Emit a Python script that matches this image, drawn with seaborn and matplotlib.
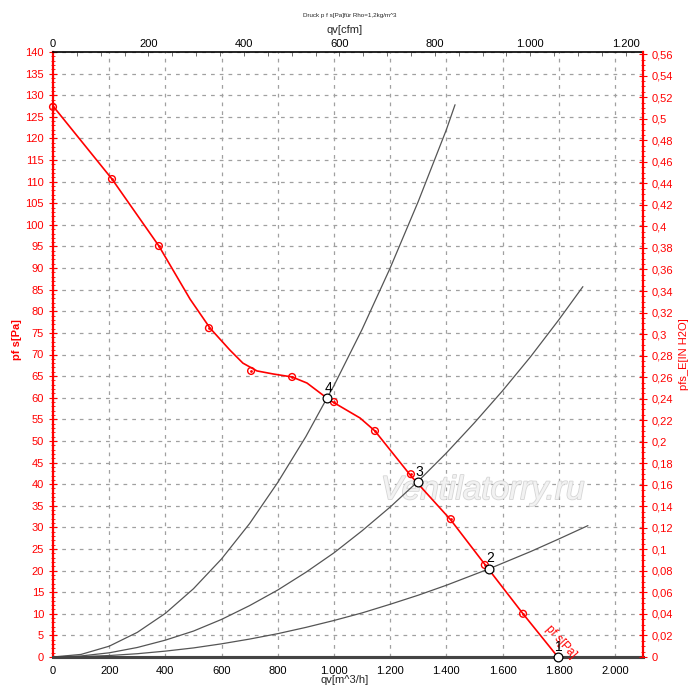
import numpy as np
import pandas as pd
import seaborn as sns
import matplotlib.pyplot as plt
from matplotlib.ticker import MultipleLocator, FixedLocator, FuncFormatter
import matplotlib.patheffects as pe

# fan curve (line), m^3/h vs Pa
fan_line_q = [0, 210, 377, 488, 559, 630, 676, 726, 783, 851, 904, 961, 996, 1093, 1146, 1274, 1416, 1541, 1673, 1797]
fan_line_p = [127.5, 110.6, 95.1, 82.8, 76.1, 71.0, 68.0, 66.2, 65.5, 64.8, 63.4, 60.6, 59.0, 55.3, 52.3, 41.9, 31.7, 21.1, 10.0, 0.0]

# measured points on the fan curve
meas_q = [0, 210, 377, 555, 705, 851, 1000, 1146, 1274, 1416, 1537, 1673]
meas_p = [127.3, 110.6, 95.1, 76.1, 66.2, 64.8, 59.0, 52.3, 42.3, 31.9, 21.3, 10.0]

# system curves
sys4_q = [0, 100, 200, 300, 400, 500, 600, 700, 800, 900, 975, 1000, 1100, 1200, 1300, 1400, 1431]
sys4_p = [0, 0.6, 2.5, 5.7, 10.1, 15.8, 22.7, 30.9, 40.4, 51.0, 59.9, 62.8, 75.8, 90.0, 105.4, 122.0, 127.8]
sys3_q = [0, 100, 200, 300, 400, 500, 600, 700, 800, 900, 1000, 1100, 1200, 1300, 1400, 1500, 1600, 1700, 1800, 1886]
sys3_p = [0, 0.24, 0.97, 2.2, 3.9, 6.0, 8.7, 11.9, 15.5, 19.6, 24.1, 29.2, 34.7, 40.7, 47.2, 54.2, 61.6, 69.5, 78.0, 85.7]
sys2_q = [0, 100, 200, 300, 400, 500, 600, 700, 800, 900, 1000, 1100, 1200, 1300, 1400, 1500, 1552, 1600, 1700, 1800, 1904]
sys2_p = [0, 0.08, 0.34, 0.76, 1.36, 2.1, 3.05, 4.15, 5.4, 6.85, 8.45, 10.2, 12.2, 14.3, 16.6, 19.1, 20.4, 21.7, 24.4, 27.3, 30.4]
sys1_q = [0, 2100]
sys1_p = [0, 0]

# operating points
op_labels = ["1", "2", "3", "4"]
op_q = [1797, 1552, 1299, 975]
op_p = [0.0, 20.4, 40.5, 59.9]

x_ticks = list(range(0, 2001, 200))
y_ticks = list(range(0, 141, 5))
cfm_ticks = list(range(0, 1201, 200))
inh2o_ticks = [i / 50 for i in range(0, 29)]

PA_TO_INH2O = 0.0040146
M3H_PER_CFM = 1.699

RED = "#ff0000"

sns.set_style("white")
plt.rcParams["font.family"] = ["Liberation Sans", "DejaVu Sans"]

fig = plt.figure(figsize=(7, 7), dpi=100)
ax = fig.add_axes([53 / 700, 43 / 700, 590 / 700, 605 / 700])

ax.set_xlim(0, 2100)
ax.set_ylim(0, 140)

ax.xaxis.set_major_locator(FixedLocator(x_ticks))
ax.xaxis.set_minor_locator(FixedLocator(list(range(100, 2100, 200))))
ax.yaxis.set_major_locator(FixedLocator(y_ticks))
ax.yaxis.set_minor_locator(MultipleLocator(1))
ax.grid(True, which="major", color="#a0a0a0", linestyle=(0, (3, 4)), linewidth=0.9)
ax.set_axisbelow(True)

def thousands(v, pos):
    return f"{int(round(v)):,}".replace(",", ".")

ax.xaxis.set_major_formatter(FuncFormatter(thousands))
ax.tick_params(axis="x", which="both", direction="out", colors="#333333", labelsize=8,
               labelcolor="black", length=3, width=0.6)
ax.tick_params(axis="y", which="major", direction="inout", colors=RED, labelsize=8, length=6, width=0.8)
ax.tick_params(axis="y", which="minor", direction="inout", colors=RED, length=3, width=0.6)

ax.spines["left"].set_color(RED)
ax.spines["left"].set_linewidth(1.6)
ax.spines["right"].set_visible(False)
ax.spines["top"].set_color("black")
ax.spines["top"].set_linewidth(1.2)
ax.spines["bottom"].set_color("#444444")
ax.spines["bottom"].set_linewidth(2.2)

# system curves
for q, p in [(sys4_q, sys4_p), (sys3_q, sys3_p), (sys2_q, sys2_p)]:
    sns.lineplot(x=q, y=p, ax=ax, color="#555555", linewidth=0.9, sort=False, estimator=None)
sns.lineplot(x=sys1_q, y=sys1_p, ax=ax, color="#444444", linewidth=2.2, estimator=None, clip_on=False)

# fan curve
sns.lineplot(x=fan_line_q, y=fan_line_p, ax=ax, color=RED, linewidth=1.2, sort=False, estimator=None)
sns.scatterplot(x=meas_q, y=meas_p, ax=ax, marker="o", s=24, facecolor="none",
                edgecolor=RED, linewidth=1.0, zorder=4, clip_on=False)
sns.scatterplot(x=meas_q, y=meas_p, ax=ax, marker="o", s=4, color=RED, linewidth=0, zorder=5, clip_on=False)

# operating points
ops = pd.DataFrame({"q": op_q, "p": op_p, "label": op_labels})
sns.scatterplot(data=ops, x="q", y="p", ax=ax, marker="o", s=40, facecolor="white",
                edgecolor="black", linewidth=0.9, zorder=6, clip_on=False)
for _, r in ops.iterrows():
    ax.annotate(r["label"], (r["q"], r["p"]), xytext=(1, 2.5), textcoords="offset points",
                fontsize=10, color="black", ha="center", va="bottom", zorder=7)

ax.text(1808, 3.6, "pf s[Pa]", rotation=-48, color=RED, fontsize=8.5,
        ha="center", va="center", rotation_mode="anchor", zorder=3)

ax.text(1530, 38.5, "Ventilatorry.ru", fontsize=24, style="italic", color="#f2f2f2",
        ha="center", va="center", zorder=1,
        path_effects=[pe.withStroke(linewidth=1.2, foreground="#d6d6d6")])

# right axis in H2O
ax2 = ax.twinx()
ax2.set_ylim(0, 140 * PA_TO_INH2O)
ax2.yaxis.set_major_locator(FixedLocator(inh2o_ticks))
ax2.yaxis.set_minor_locator(FixedLocator([i / 200 for i in range(0, 113)]))

def comma(v, pos):
    if abs(v) < 1e-9:
        return "0"
    return f"{v:.2f}".rstrip("0").replace(".", ",")

ax2.yaxis.set_major_formatter(FuncFormatter(comma))
ax2.tick_params(axis="y", which="major", direction="inout", colors=RED, labelsize=8, length=6, width=0.8)
ax2.tick_params(axis="y", which="minor", direction="inout", colors=RED, length=3, width=0.6)
for s in ["left", "top", "bottom"]:
    ax2.spines[s].set_visible(False)
ax2.spines["right"].set_color(RED)
ax2.spines["right"].set_linewidth(1.6)
ax2.set_ylabel("pfs_E[IN H2O]", color=RED, fontsize=8, labelpad=4)

# top axis in cfm
top = ax.secondary_xaxis("top", functions=(lambda x: x / M3H_PER_CFM, lambda x: x * M3H_PER_CFM))
top.xaxis.set_major_locator(FixedLocator(cfm_ticks))
top.xaxis.set_minor_locator(FixedLocator(list(range(50, 1236, 50))))
top.xaxis.set_major_formatter(FuncFormatter(thousands))
top.tick_params(axis="x", which="both", direction="in", colors="#555555", labelcolor="black",
                labelsize=8, length=3, width=0.6, pad=2)
top.spines["top"].set_visible(False)

ax.set_xlabel("")
ax.set_ylabel("")
fig.text(17 / 700, 1 - 340 / 700, "pf s[Pa]", rotation=90, color=RED, fontsize=8,
         fontweight="bold", ha="center", va="center")
fig.text(345 / 700, 1 - 30 / 700, "qv[cfm]", fontsize=8, ha="center", va="center")
fig.text(345 / 700, 1 - 680 / 700, "qv[m^3/h]", fontsize=8, ha="center", va="center")
fig.text(350 / 700, 1 - 15 / 700, "Druck p f s[Pa]für Rho=1,2kg/m^3", fontsize=4.5,
         ha="center", va="center")

fig.savefig("out.png", dpi=100)
